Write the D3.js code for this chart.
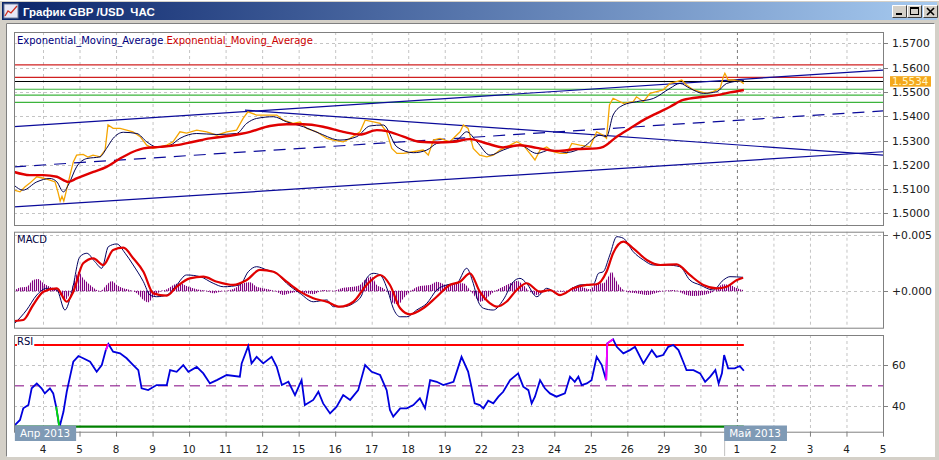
<!DOCTYPE html>
<html><head><meta charset="utf-8">
<script src="https://cdn.jsdelivr.net/npm/d3@7"></script>
<style>
html,body{margin:0;padding:0;background:#d4d0c8;overflow:hidden;}
svg{display:block;}
text{font-family:"DejaVu Sans",Verdana,sans-serif;}
</style></head><body>
<svg id="c" width="939" height="460"></svg>
<script>
// ---------------- DATA ----------------
const windowTitle = "График GBP /USD  ЧАС";
const legendLabels = ["Exponential_Moving_Average", "Exponential_Moving_Average"];
const dayLabels = ["4","5","8","9","10","11","12","15","16","17","18","19","22","23","24","25","26","29","30","1","2","3","4","5"];
const monthStartDay = 19;
const monthLabels = ["Апр 2013", "Май 2013"];
const monthLabelTimes = [-0.77, 18.65];
const priceTicks = [1.50, 1.51, 1.52, 1.53, 1.54, 1.55, 1.56, 1.57];
const macdTicks = [0, 0.005];
const rsiTicks = [40, 60];
const lastPrice = 1.5534;

// time in trading days (0 = day "4"), value
const price = [
[-0.79,1.5096],[-0.63,1.5089],[-0.49,1.5110],[-0.36,1.5125],[-0.17,1.5151],[0.01,1.5145],[0.19,1.5137],[0.33,1.5130],
[0.41,1.5088],[0.47,1.5051],[0.52,1.5071],[0.57,1.5051],[0.63,1.5088],[0.74,1.5158],[0.83,1.5212],[0.92,1.5240],
[1.10,1.5243],[1.23,1.5232],[1.37,1.5240],[1.56,1.5233],[1.70,1.5261],[1.78,1.5364],[1.92,1.5350],[2.11,1.5350],
[2.29,1.5343],[2.46,1.5336],[2.66,1.5316],[2.84,1.5281],[3.01,1.5268],[3.20,1.5274],[3.39,1.5281],[3.56,1.5295],
[3.75,1.5336],[3.93,1.5331],[4.21,1.5343],[4.48,1.5336],[4.76,1.5322],[5.03,1.5336],[5.30,1.5343],[5.48,1.5391],
[5.61,1.5418],[5.85,1.5405],[6.13,1.5405],[6.40,1.5405],[6.58,1.5384],[6.85,1.5371],[7.04,1.5377],[7.22,1.5350],
[7.49,1.5336],[7.77,1.5309],[7.95,1.5302],[8.22,1.5295],[8.41,1.5309],[8.68,1.5336],[8.82,1.5384],[9.05,1.5377],
[9.23,1.5371],[9.41,1.5336],[9.55,1.5268],[9.69,1.5247],[9.87,1.5247],[10.14,1.5254],[10.41,1.5261],[10.55,1.5240],
[10.69,1.5302],[10.87,1.5309],[11.14,1.5295],[11.42,1.5336],[11.51,1.5364],[11.64,1.5350],[11.78,1.5268],[11.96,1.5240],
[12.15,1.5233],[12.33,1.5240],[12.51,1.5261],[12.79,1.5281],[12.97,1.5295],[13.15,1.5281],[13.33,1.5247],[13.47,1.5220],
[13.61,1.5261],[13.79,1.5274],[13.97,1.5254],[14.16,1.5247],[14.34,1.5247],[14.48,1.5288],[14.70,1.5281],[14.98,1.5274],
[15.16,1.5336],[15.34,1.5322],[15.43,1.5309],[15.51,1.5446],[15.61,1.5474],[15.89,1.5453],[16.16,1.5460],[16.25,1.5480],
[16.44,1.5460],[16.62,1.5494],[16.80,1.5501],[16.98,1.5508],[17.17,1.5535],[17.35,1.5542],[17.49,1.5549],[17.62,1.5528],
[17.81,1.5508],[17.99,1.5501],[18.17,1.5494],[18.35,1.5501],[18.54,1.5515],[18.63,1.5563],[18.67,1.5577],[18.76,1.5549],
[18.90,1.5549],[19.08,1.5545],[19.19,1.5534]
];
const emaFast = [
[-0.79,1.5116],[-0.55,1.5096],[-0.17,1.5130],[0.19,1.5144],[0.38,1.5130],[0.56,1.5089],[0.69,1.5116],[0.92,1.5192],
[1.20,1.5226],[1.56,1.5233],[1.74,1.5268],[1.92,1.5309],[2.20,1.5334],[2.57,1.5329],[2.84,1.5295],[3.11,1.5274],
[3.48,1.5281],[3.75,1.5309],[4.21,1.5329],[4.76,1.5325],[5.30,1.5329],[5.58,1.5371],[5.85,1.5391],[6.31,1.5398],
[6.67,1.5377],[7.13,1.5357],[7.58,1.5329],[8.13,1.5302],[8.59,1.5316],[8.95,1.5360],[9.32,1.5364],[9.69,1.5274],
[10.14,1.5250],[10.51,1.5261],[10.78,1.5288],[11.33,1.5302],[11.60,1.5336],[11.88,1.5295],[12.24,1.5240],[12.60,1.5261],
[13.06,1.5281],[13.52,1.5247],[13.88,1.5261],[14.34,1.5251],[14.80,1.5274],[15.25,1.5322],[15.43,1.5316],[15.61,1.5405],
[15.89,1.5446],[16.25,1.5460],[16.71,1.5473],[17.17,1.5515],[17.44,1.5535],[17.71,1.5515],[18.08,1.5494],[18.45,1.5501],
[18.72,1.5535],[19.19,1.5547]
];
const emaSlow = [
[-0.79,1.5171],[-0.36,1.5158],[0.01,1.5158],[0.38,1.5151],[0.69,1.5130],[0.92,1.5144],[1.38,1.5171],[1.74,1.5192],
[2.11,1.5226],[2.47,1.5254],[2.75,1.5268],[3.20,1.5274],[3.66,1.5281],[4.12,1.5295],[4.57,1.5309],[5.12,1.5320],
[5.67,1.5336],[6.21,1.5360],[6.67,1.5367],[7.13,1.5367],[7.67,1.5357],[8.22,1.5336],[8.68,1.5325],[9.14,1.5343],
[9.41,1.5339],[9.87,1.5316],[10.32,1.5295],[10.78,1.5292],[11.24,1.5295],[11.69,1.5306],[12.15,1.5288],[12.60,1.5272],
[13.06,1.5281],[13.52,1.5270],[14.07,1.5257],[14.61,1.5265],[15.16,1.5268],[15.34,1.5274],[15.71,1.5316],[16.07,1.5350],
[16.44,1.5384],[16.80,1.5412],[17.17,1.5439],[17.53,1.5467],[18.08,1.5480],[18.45,1.5487],[18.81,1.5498],[19.19,1.5508]
];
const levelsRed = [1.5611, 1.5560];
const levelsBlack = [1.5543];
const levelsGreen = [1.5511, 1.5487, 1.5457];
const channelUpper = [[-0.79,1.5357],[23.0,1.5590]];
const channelLower = [[-0.79,1.5027],[23.0,1.5254]];
const channelMid = [[-0.79,1.5192],[23.0,1.5422]];
const trendDown = [[5.53,1.5425],[23.0,1.5240]];

const macdLine = [
[-0.77,-0.00288],[-0.45,-0.00170],[-0.17,-0.00036],[0.10,0.00024],[0.38,0.00009],[0.60,-0.00170],[0.79,-0.00006],[1.01,0.00306],
[1.20,0.00337],[1.42,0.00262],[1.61,0.00203],[1.79,0.00396],[2.02,0.00420],[2.25,0.00337],[2.47,0.00232],[2.75,0.00083],
[2.93,-0.00036],[3.11,-0.00051],[3.39,-0.00036],[3.66,0.00054],[3.93,0.00143],[4.30,0.00128],[4.66,0.00069],[4.94,0.00038],
[5.39,0.00054],[5.62,0.00172],[5.85,0.00217],[6.13,0.00188],[6.40,0.00158],[6.67,0.00069],[7.04,-0.00021],[7.40,-0.00096],
[7.77,-0.00080],[7.95,-0.00140],[8.22,-0.00140],[8.50,-0.00110],[8.73,-0.00036],[8.86,0.00113],[9.04,0.00158],[9.23,0.00143],
[9.45,-0.00006],[9.59,-0.00154],[9.78,-0.00230],[9.96,-0.00230],[10.23,-0.00170],[10.51,-0.00110],[10.78,0.00009],[11.05,0.00054],
[11.33,0.00069],[11.60,0.00203],[11.78,0.00069],[11.92,-0.00096],[12.06,-0.00154],[12.33,-0.00170],[12.60,-0.00080],[12.88,0.00083],
[13.06,0.00113],[13.24,0.00069],[13.52,-0.00051],[13.79,0.00024],[14.16,-0.00036],[14.43,0.00009],[14.70,0.00054],[15.07,0.00060],
[15.21,0.00158],[15.34,0.00172],[15.52,0.00321],[15.71,0.00485],[15.89,0.00471],[16.16,0.00351],[16.44,0.00277],[16.71,0.00232],
[17.08,0.00232],[17.44,0.00217],[17.71,0.00098],[17.99,0.00054],[18.35,0.00009],[18.63,0.00098],[18.81,0.00128],[19.17,0.00122]
];
const macdSignal = [
[-0.77,-0.00268],[-0.54,-0.00259],[-0.27,-0.00125],[0.01,-0.00006],[0.38,0.00024],[0.65,-0.00096],[0.83,-0.00006],[1.10,0.00247],
[1.38,0.00292],[1.65,0.00232],[1.92,0.00366],[2.20,0.00387],[2.47,0.00292],[2.75,0.00172],[3.02,-0.00021],[3.39,-0.00042],
[3.66,0.00038],[4.02,0.00113],[4.39,0.00128],[4.76,0.00083],[5.21,0.00054],[5.58,0.00098],[5.94,0.00188],[6.31,0.00172],
[6.67,0.00083],[7.04,-0.00006],[7.40,-0.00065],[7.77,-0.00096],[8.13,-0.00140],[8.50,-0.00096],[8.86,0.00054],[9.23,0.00143],
[9.50,0.00054],[9.78,-0.00154],[10.05,-0.00208],[10.41,-0.00154],[10.78,-0.00051],[11.14,0.00054],[11.42,0.00083],[11.69,0.00158],
[11.96,-0.00006],[12.24,-0.00110],[12.42,-0.00140],[12.69,-0.00096],[12.97,0.00009],[13.24,0.00069],[13.61,-0.00006],[13.88,0.00009],
[14.16,-0.00036],[14.52,0.00024],[14.89,0.00054],[15.16,0.00060],[15.43,0.00172],[15.61,0.00337],[15.89,0.00440],[16.16,0.00381],
[16.53,0.00277],[16.90,0.00232],[17.35,0.00238],[17.71,0.00143],[18.08,0.00054],[18.45,0.00024],[18.72,0.00038],[19.00,0.00098],
[19.17,0.00119]
];
const macdHist = [
[-0.79,0],[-0.63,0.00031],[-0.44,0.00038],[-0.27,0.00098],[-0.13,0.00107],[0.01,0.00069],[0.19,0.00038],[0.38,0.00009],
[0.51,-0.00051],[0.60,-0.00080],[0.74,-0.00021],[0.88,0.00113],[0.97,0.00172],[1.10,0.00113],[1.29,0.00054],[1.47,0.00009],
[1.56,-0.00006],[1.74,0.00054],[1.88,0.00089],[2.02,0.00054],[2.20,0.00024],[2.38,0.00009],[2.57,-0.00021],[2.75,-0.00080],
[2.88,-0.00101],[3.02,-0.00051],[3.20,-0.00006],[3.39,0.00015],[3.57,0.00054],[3.75,0.00069],[3.93,0.00045],[4.21,0.00015],
[4.48,0],[4.66,-0.00021],[4.85,-0.00006],[5.21,0.00018],[5.48,0.00069],[5.67,0.00078],[5.85,0.00038],[6.13,0.00018],
[6.40,-0.00006],[6.58,-0.00036],[6.76,-0.00021],[7.04,-0.00006],[7.22,-0.00021],[7.40,-0.00029],[7.67,0.00009],[7.95,0],
[8.22,0.00029],[8.50,0.00038],[8.68,0.00054],[8.86,0.00113],[9.00,0.00128],[9.14,0.00054],[9.32,0.00024],[9.45,-0.00021],
[9.59,-0.00110],[9.73,-0.00119],[9.87,-0.00065],[10.05,-0.00006],[10.32,0.00045],[10.60,0.00054],[10.78,0.00083],[11.05,0.00054],
[11.33,0.00069],[11.51,0.00069],[11.69,0.00009],[11.83,-0.00051],[11.96,-0.00096],[12.10,-0.00080],[12.24,-0.00036],[12.42,0.00009],
[12.60,0.00038],[12.79,0.00069],[12.97,0.00089],[13.15,0.00054],[13.33,-0.00006],[13.52,-0.00036],[13.70,-0.00006],[13.88,0.00009],
[14.16,-0.00006],[14.34,-0.00006],[14.52,0.00038],[14.70,0.00038],[14.98,0.00015],[15.16,0.00069],[15.34,0.00069],[15.48,0.00128],
[15.57,0.00172],[15.66,0.00113],[15.80,0.00038],[15.98,-0.00006],[16.25,-0.00021],[16.53,-0.00036],[16.90,-0.00006],[17.26,0.00009],
[17.62,-0.00036],[17.81,-0.00045],[18.08,-0.00036],[18.35,-0.00006],[18.63,0.00060],[18.81,0.00054],[19.00,0.00024],[19.17,0.00009]
];
const rsiLine = [
[-0.77,30.8],[-0.63,33.3],[-0.54,39.0],[-0.40,40.6],[-0.31,48.8],[-0.17,51.2],[-0.04,48.8],[0.05,46.3],[0.19,48.8],[0.28,46.3],
[0.36,39.8],[0.45,29.6],[0.56,37.3],[0.65,47.1],[0.74,54.5],[0.83,61.8],[0.97,64.6],[1.10,63.5],[1.29,61.8],[1.47,56.9],
[1.61,60.2],[1.72,67.5],[1.79,70.5],[1.92,66.7],[2.11,65.9],[2.29,63.5],[2.47,60.2],[2.61,57.7],[2.70,48.8],[2.88,47.9],
[3.11,50.4],[3.39,50.4],[3.48,57.7],[3.66,56.9],[3.84,60.2],[3.98,56.9],[4.21,59.3],[4.39,56.1],[4.57,51.2],[4.76,52.8],
[5.03,55.3],[5.39,54.5],[5.44,61.0],[5.62,69.5],[5.71,61.0],[5.85,64.2],[6.03,61.0],[6.26,64.2],[6.40,59.3],[6.54,50.4],
[6.72,52.0],[6.90,45.5],[7.08,52.8],[7.17,40.6],[7.40,43.1],[7.54,47.1],[7.67,41.4],[7.86,36.5],[8.04,39.8],[8.22,45.5],
[8.41,43.1],[8.63,47.9],[8.82,60.2],[9.00,56.9],[9.23,55.3],[9.41,47.9],[9.50,38.2],[9.59,34.9],[9.78,39.0],[9.96,39.0],
[10.14,40.6],[10.32,43.9],[10.46,39.0],[10.60,52.8],[10.78,52.0],[10.96,50.4],[11.24,52.0],[11.46,64.2],[11.64,57.0],[11.73,49.6],
[11.82,41.4],[11.96,40.6],[12.06,39.0],[12.19,42.7],[12.33,41.4],[12.47,44.7],[12.60,47.1],[12.79,52.8],[13.01,56.1],[13.15,49.6],
[13.29,47.9],[13.38,41.4],[13.47,44.7],[13.61,52.8],[13.74,48.8],[13.88,46.3],[14.06,44.7],[14.29,46.3],[14.43,54.5],[14.56,52.0],
[14.66,54.5],[14.75,50.4],[14.89,51.2],[15.02,52.8],[15.16,64.2],[15.30,60.2],[15.42,52.8],[15.45,70.8],[15.61,72.8],[15.71,69.1],
[15.89,65.9],[16.07,67.5],[16.21,69.1],[16.44,61.0],[16.67,67.5],[16.80,64.2],[16.98,65.1],[17.12,69.1],[17.26,70.0],[17.40,67.5],
[17.53,61.8],[17.62,57.7],[17.81,57.7],[17.99,56.1],[18.13,52.0],[18.27,54.5],[18.41,57.7],[18.50,51.2],[18.59,56.1],[18.65,65.1],
[18.76,58.6],[18.94,58.6],[19.08,59.7],[19.19,57.4]
];
const rsiUpper = 70, rsiMid = 50, rsiLower = 30;

// ---------------- DRAWING ----------------
const W = 939, H = 460;
const svg = d3.select("#c");
const defs = svg.append("defs");

const x = d3.scaleLinear().domain([-0.794, 23]).range([14, 883]);
const P = {
  main: {top: 32, bottom: 225},
  macd: {top: 231.7, bottom: 327.7},
  rsi:  {top: 335, bottom: 431.7}
};
const yMain = d3.scaleLinear().domain([1.49527, 1.57465]).range([P.main.bottom, P.main.top]);
const yMacd = d3.scaleLinear().domain([-0.003277, 0.005295]).range([P.macd.bottom, P.macd.top]);
const yRsi  = d3.scaleLinear().domain([27.55, 74.9]).range([P.rsi.bottom, P.rsi.top]);
const L = x.range()[0], R = x.range()[1];

// window chrome
svg.append("rect").attr("width", W).attr("height", H).attr("fill", "#d4d0c8");
svg.append("line").attr("x1",0).attr("x2",W).attr("y1",0.5).attr("y2",0.5).attr("stroke","#ffffff");
const tg = defs.append("linearGradient").attr("id","tg").attr("x1","0").attr("x2","1").attr("y1","0").attr("y2","0");
tg.append("stop").attr("offset","0").attr("stop-color","#0a246a");
tg.append("stop").attr("offset","1").attr("stop-color","#a6caf0");
svg.append("rect").attr("x",2).attr("y",2).attr("width",W-4).attr("height",18).attr("fill","url(#tg)");
// icon
svg.append("rect").attr("x",4).attr("y",4).attr("width",14).attr("height",14).attr("fill","#e8e8f8").attr("stroke","#7080a0");
svg.append("polyline").attr("points","5,16 8,11 11,13 17,6").attr("fill","none").attr("stroke","#d03020").attr("stroke-width",1.3);
svg.append("text").attr("x",23).attr("y",15.5).attr("fill","#ffffff")
  .style("font-family","'Liberation Sans',Arial,sans-serif").style("font-weight","bold").style("font-size","11.5px")
  .style("white-space","pre").text(windowTitle);
// buttons
const btnX = [892, 907, 923];
btnX.forEach((bx,i)=>{
  const g = svg.append("g");
  g.append("rect").attr("x",bx).attr("y",5).attr("width",15).attr("height",13).attr("fill","#d4d0c8");
  g.append("path").attr("d",`M${bx+0.5},${17.5}V${5.5}H${bx+14.5}`).attr("fill","none").attr("stroke","#ffffff");
  g.append("path").attr("d",`M${bx+0.5},${17.5}H${bx+14.5}V${5.5}`).attr("fill","none").attr("stroke","#404040");
  if (i===0) g.append("rect").attr("x",bx+4).attr("y",13).attr("width",6).attr("height",2).attr("fill","#000");
  if (i===1) { g.append("rect").attr("x",bx+3.5).attr("y",7.5).attr("width",8).attr("height",7).attr("fill","none").attr("stroke","#000");
               g.append("line").attr("x1",bx+3.5).attr("x2",bx+11.5).attr("y1",8.5).attr("y2",8.5).attr("stroke","#000"); }
  if (i===2) g.append("path").attr("d",`M${bx+4},${8}L${bx+11},${15}M${bx+11},${8}L${bx+4},${15}`).attr("stroke","#000").attr("stroke-width",1.6);
});
// client area
svg.append("rect").attr("x",6).attr("y",23).attr("width",929).attr("height",434).attr("fill","#ffffff");
svg.append("path").attr("d","M6.5,456.5V23.5H934.5").attr("fill","none").attr("stroke","#808080");

// clip paths
Object.entries(P).forEach(([k,p])=>{
  defs.append("clipPath").attr("id","clip-"+k).append("rect")
    .attr("x",L).attr("y",p.top).attr("width",R-L).attr("height",p.bottom-p.top);
});
// histogram stripe pattern
const pat = defs.append("pattern").attr("id","stripes").attr("patternUnits","userSpaceOnUse").attr("width",2).attr("height",4);
pat.append("rect").attr("width",1.1).attr("height",4).attr("fill","#800080");

const gridColor = "#c4c4c4";
function panelGrid(p, yScale, ticks, fmt) {
  const g = svg.append("g");
  dayLabels.forEach((d,i)=>{
    g.append("line").attr("x1",x(i)+0.5).attr("x2",x(i)+0.5).attr("y1",p.top).attr("y2",p.bottom)
      .attr("stroke", i===monthStartDay ? "#7a7a7a" : gridColor).attr("stroke-dasharray","3,3");
  });
  ticks.forEach(v=>{
    const yy = Math.round(yScale(v))+0.5;
    g.append("line").attr("x1",L).attr("x2",R).attr("y1",yy).attr("y2",yy)
      .attr("stroke",gridColor).attr("stroke-dasharray","3,3");
    g.append("line").attr("x1",R).attr("x2",R+5).attr("y1",yy).attr("y2",yy).attr("stroke","#808080");
    g.append("text").attr("x",R+9).attr("y",yy).attr("dy","0.36em").attr("fill","#202020")
      .style("font-size","10.8px").text(fmt(v));
  });
}
function panelBorder(p) {
  svg.append("rect").attr("x",L+0.5).attr("y",p.top+0.5).attr("width",R-L).attr("height",p.bottom-p.top)
    .attr("fill","none").attr("stroke","#808080");
}

// ---------- MAIN ----------
panelGrid(P.main, yMain, priceTicks, d3.format(".4f"));
const gm = svg.append("g").attr("clip-path","url(#clip-main)");
const hline = (g, v, y, color, w) => g.append("line").attr("x1",L).attr("x2",R)
  .attr("y1",y(v)).attr("y2",y(v)).attr("stroke",color).attr("stroke-width",w);
levelsRed.forEach(v=>hline(gm, v, yMain, "#d02020", 1.2));
levelsBlack.forEach(v=>hline(gm, v, yMain, "#000000", 1.2));
levelsGreen.forEach(v=>hline(gm, v, yMain, "#3cb43c", 1.2));
const lineMain = d3.line().x(d=>x(d[0])).y(d=>yMain(d[1]));
[channelUpper, channelLower, trendDown].forEach(s=>{
  gm.append("path").attr("d",lineMain(s)).attr("fill","none").attr("stroke","#0a0a9a").attr("stroke-width",1.2);
});
gm.append("path").attr("d",lineMain(channelMid)).attr("fill","none").attr("stroke","#0a0a9a")
  .attr("stroke-width",1.2).attr("stroke-dasharray","12,8");
gm.append("path").attr("d",lineMain(price)).attr("fill","none").attr("stroke","#f5a500").attr("stroke-width",1.3);
gm.append("path").attr("d",d3.line().x(d=>x(d[0])).y(d=>yMain(d[1])).curve(d3.curveMonotoneX)(emaFast))
  .attr("fill","none").attr("stroke","#000050").attr("stroke-width",1);
gm.append("path").attr("d",d3.line().x(d=>x(d[0])).y(d=>yMain(d[1])).curve(d3.curveMonotoneX)(emaSlow))
  .attr("fill","none").attr("stroke","#e00000").attr("stroke-width",2.4);
panelBorder(P.main);
// legend
const lg = svg.append("text").attr("x",17).attr("y",44).style("font-size","10px").style("white-space","pre");
lg.append("tspan").attr("fill","#000080").text(legendLabels[0] + " ");
lg.append("tspan").attr("fill","#cc0000").text(legendLabels[1]);
// last price tag
const lpY = yMain(lastPrice) - 2;
const lpG = svg.append("g");
lpG.append("rect").attr("x",890).attr("y",lpY-5.5).attr("width",41).attr("height",10.5).attr("fill","#f4a81c");
lpG.append("text").attr("x",892).attr("y",lpY).attr("dy","0.34em").attr("fill","#fff6c8")
  .style("font-size","10.4px").text(d3.format(".4f")(lastPrice));

// ---------- MACD ----------
panelGrid(P.macd, yMacd, macdTicks, d3.format("+.3f"));
const gd = svg.append("g").attr("clip-path","url(#clip-macd)");
const t0 = macdHist[0][0], t1 = macdHist[macdHist.length-1][0];
gd.append("path").attr("d", d3.line().x(d=>x(d)).y(()=>yMacd(0))([t0,t1]))
  .attr("stroke","#800080").attr("stroke-dasharray","1,2").attr("fill","none");
gd.append("path").attr("d", d3.area().x(d=>x(d[0])).y0(yMacd(0)).y1(d=>yMacd(d[1])).curve(d3.curveMonotoneX)(macdHist))
  .attr("fill","url(#stripes)");
gd.append("path").attr("d", d3.line().x(d=>x(d[0])).y(d=>yMacd(d[1])).curve(d3.curveMonotoneX)(macdLine))
  .attr("fill","none").attr("stroke","#000060").attr("stroke-width",1);
gd.append("path").attr("d", d3.line().x(d=>x(d[0])).y(d=>yMacd(d[1])).curve(d3.curveMonotoneX)(macdSignal))
  .attr("fill","none").attr("stroke","#e00000").attr("stroke-width",2.2);
panelBorder(P.macd);
svg.append("text").attr("x",17).attr("y",P.macd.top+11).attr("fill","#000040").style("font-size","10px").text("MACD");

// ---------- RSI ----------
panelGrid(P.rsi, yRsi, rsiTicks, d3.format("d"));
const gr = svg.append("g").attr("clip-path","url(#clip-rsi)");
const rT0 = rsiLine[0][0] - 0.02, rT1 = rsiLine[rsiLine.length-1][0];
const hSeg = (v, color, w) => gr.append("path")
  .attr("d", d3.line().x(d=>x(d)).y(()=>yRsi(v))([rT0, rT1]))
  .attr("stroke",color).attr("stroke-width",w).attr("fill","none");
gr.append("line").attr("x1",L).attr("x2",R).attr("y1",yRsi(rsiMid)).attr("y2",yRsi(rsiMid))
  .attr("stroke","#800080").attr("stroke-dasharray","10,6");
hSeg(rsiUpper, "#ff0000", 2.2);
hSeg(rsiLower, "#008000", 2.2);
const rl = d3.line().x(d=>x(d[0])).y(d=>yRsi(d[1]));
gr.append("path").attr("d", rl(rsiLine)).attr("fill","none").attr("stroke","#0000dd").attr("stroke-width",1.8);
for (let i=1;i<rsiLine.length;i++){
  const e = rsiLine[i][1];
  if (e > rsiUpper || e < rsiLower) {
    gr.append("path").attr("d", rl([rsiLine[i-1], rsiLine[i]])).attr("fill","none")
      .attr("stroke", e > rsiUpper ? "#ff00ff" : "#00e000").attr("stroke-width",1.8);
  }
}
panelBorder(P.rsi);
const rsiG = svg.append("g");
const rsiBg = rsiG.append("rect").attr("fill","#ffffff");
const rsiLbl = rsiG.append("text").attr("x",17).attr("y",P.rsi.top+10).attr("fill","#000040").style("font-size","10px").text("RSI");
const bb = rsiLbl.node().getBBox();
rsiBg.attr("x",bb.x).attr("y",bb.y).attr("width",bb.width+1).attr("height",bb.height-1);

// ---------- X AXIS ----------
const gx = svg.append("g");
dayLabels.forEach((d,i)=>{
  gx.append("line").attr("x1",x(i)+0.5).attr("x2",x(i)+0.5).attr("y1",P.rsi.bottom).attr("y2",P.rsi.bottom+5).attr("stroke","#808080");
  gx.append("text").attr("x",x(i)).attr("y",453).attr("text-anchor","middle").attr("fill","#202020")
    .style("font-size","10.4px").text(d);
});
monthLabels.forEach((m,i)=>{
  const mx = x(monthLabelTimes[i]);
  const mg = gx.append("g");
  const box = mg.append("rect").attr("fill","#7f9ab5");
  const t = mg.append("text").attr("x",mx+5).attr("y",437).attr("fill","#ffffff").style("font-size","10.4px").text(m);
  const w = t.node().getComputedTextLength();
  box.attr("x",mx).attr("y",425.5).attr("width",w+11).attr("height",15.5);
  if (i>0) gx.append("line").attr("x1",mx+0.5).attr("x2",mx+0.5).attr("y1",441).attr("y2",456).attr("stroke","#c0c0c0");
});
</script>
</body></html>
